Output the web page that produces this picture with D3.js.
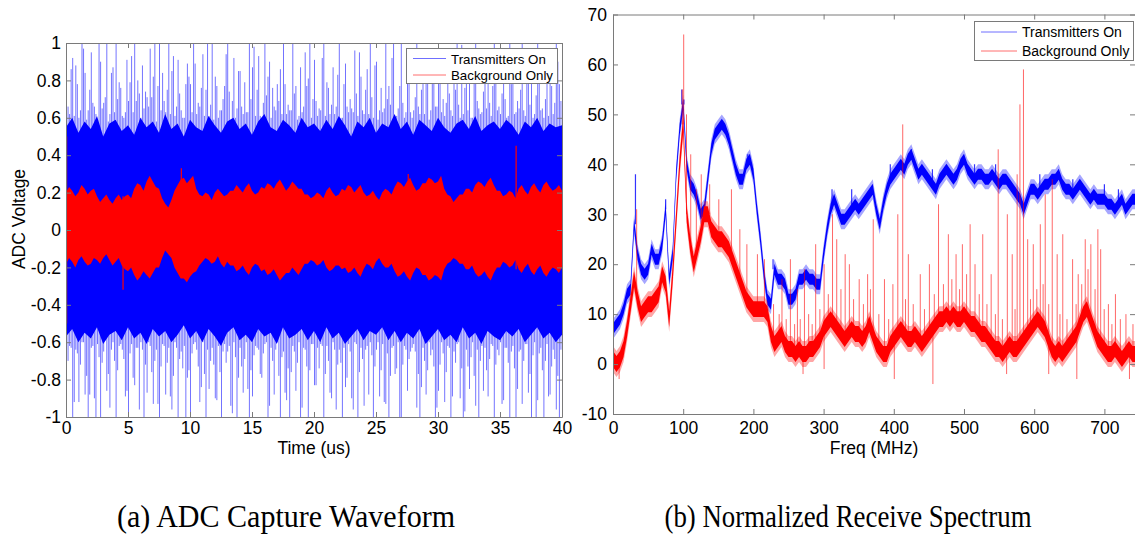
<!DOCTYPE html>
<html>
<head>
<meta charset="utf-8">
<script src="https://cdn.jsdelivr.net/npm/d3@7"></script>
<style>
  body { margin: 0; background: #fff; }
  svg { display: block; }
  .tick text, .lbl { font-family: "Liberation Sans", Arial, sans-serif; fill: #000; }
  .cap { font-family: "Liberation Serif", "Times New Roman", serif; fill: #000; }
</style>
</head>
<body>
<svg id="fig" width="1135" height="536"></svg>
<script>
// ---------- (a) ADC capture waveform ----------
const T_END = 40;                       // capture length, us
const timeTicks = [0, 5, 10, 15, 20, 25, 30, 35, 40];
const voltTicks = [-1, -0.8, -0.6, -0.4, -0.2, 0, 0.2, 0.4, 0.6, 0.8, 1];

// Transmitters on: dense body of the waveform (0.5 us bins)
const txCoreHi = [
  .55,.60,.52,.58,.54,.61,.50,.57,.59,.53,
  .56,.51,.60,.55,.58,.52,.62,.54,.57,.50,
  .59,.55,.53,.61,.56,.52,.58,.60,.54,.57,
  .51,.58,.62,.55,.53,.59,.56,.52,.60,.55,
  .57,.53,.59,.54,.61,.56,.50,.58,.55,.60,
  .52,.57,.55,.62,.54,.58,.51,.59,.56,.53,
  .60,.55,.52,.57,.59,.54,.61,.53,.56,.58,
  .54,.59,.56,.51,.58,.55,.60,.53,.57,.55,
  .56];
const txCoreLo = [
  -.57,-.53,-.60,-.55,-.58,-.52,-.61,-.56,-.54,-.59,
  -.52,-.58,-.55,-.61,-.53,-.57,-.54,-.60,-.56,-.51,
  -.58,-.54,-.60,-.53,-.57,-.62,-.55,-.52,-.59,-.56,
  -.60,-.53,-.57,-.55,-.61,-.52,-.58,-.56,-.53,-.59,
  -.54,-.60,-.52,-.58,-.55,-.61,-.57,-.53,-.59,-.54,
  -.56,-.52,-.59,-.54,-.60,-.55,-.58,-.53,-.61,-.57,
  -.53,-.59,-.56,-.60,-.52,-.58,-.55,-.61,-.54,-.57,
  -.59,-.54,-.57,-.53,-.60,-.56,-.52,-.58,-.55,-.60,
  -.56];
// Transmitters on: excursions sampled on the 0.25 us grid
const txPeakHi = [
  .78,.62,.92,.88,.60,1.0,.84,.64,  .95,.66,.59,.90,.68,1.0,.62,.87,
  1.0,.79,.61,.63,.69,.93,1.0,.80,  .60,.65,.71,.97,.82,.58,1.0,.84,
  .63,1.0,.85,.61,.91,.64,.60,.89,  .78,1.0,.62,.66,.94,.75,.61,1.0,
  .82,.60,.64,.77,1.0,.59,.92,.65,  .85,.62,.63,1.0,.87,.61,.93,.60,
  1.0,.82,.60,.66,.78,.86,1.0,.62,  .64,1.0,.77,.61,.63,.95,.81,.60,
  .91,.61,.64,1.0,.79,.62,.87,.66,  1.0,.60,.89,.63,.65,.96,.61,.82,
  .62,.86,1.0,.60,.90,.64,.63,1.0,  .77,.92,.61,.65,1.0,.60,.88,.63,
  .64,1.0,.62,.81,.93,.59,.86,.66,  1.0,.63,.61,.90,.64,.87,1.0,.60,
  .62,.94,.82,.60,1.0,.65,.63,.89,  .81,.61,1.0,.64,.62,.92,.60,1.0,
  .88,.63,.65,1.0,.61,.90,.82,.62,  1.0,.64,.60,.94,.80,.62,1.0,.78,
  .66];
const txPeakLo = [
  -.85,-.62,-1.0,-.64,-.92,-.60,-.88,-1.0,  -.63,-.90,-.61,-1.0,-.65,-.86,-.95,-.60,
  -1.0,-.62,-.64,-.89,-1.0,-.61,-.83,-.63,  -.60,-1.0,-.87,-.62,-.93,-.64,-1.0,-.61,
  -.88,-.63,-.96,-.60,-1.0,-.65,-.62,-.79,  -1.0,-.61,-.64,-.92,-.60,-1.0,-.85,-.63,
  -.90,-.62,-1.0,-.61,-.65,-.94,-.60,-1.0,  -.63,-.87,-.60,-1.0,-.89,-.62,-.64,-.79,
  -.61,-1.0,-.63,-.88,-.60,-1.0,-.65,-.91,  -1.0,-.62,-.86,-.60,-.95,-.64,-1.0,-.61,
  -.83,-.63,-.61,-1.0,-.62,-.87,-.60,-.96,  -.64,-1.0,-.84,-.61,-.90,-.60,-1.0,-.63,
  -.94,-.62,-.60,-1.0,-.64,-.89,-.61,-.93,  -1.0,-.63,-.77,-.60,-1.0,-.62,-.86,-.65,
  -.61,-.95,-1.0,-.63,-.88,-.60,-.64,-1.0,  -.86,-.60,-.92,-.62,-1.0,-.65,-.61,-.90,
  -1.0,-.64,-.85,-.60,-.94,-1.0,-.62,-.63,  -.89,-.61,-1.0,-.64,-.60,-.91,-.63,-1.0,
  -.62,-1.0,-.65,-.93,-.61,-.87,-1.0,-.60,  -.91,-.63,-1.0,-.61,-.88,-.64,-.96,-1.0,
  -.86];
// Transmitters on: excursions sampled halfway between the 0.25 us grid points
const txMidHi = [
  .66,.86,.61,.78,.64,.97,.59,.75,  .68,.62,1.0,.65,.71,.58,.84,.63,
  .70,.76,.60,.91,.79,.63,.69,.73,  .88,.74,.66,.71,1.0,.77,.64,.69,
  .75,.62,.93,.66,.73,.60,.78,.82,  .63,.89,.68,.76,.61,1.0,.67,.59,
  .77,.64,.70,.94,.74,.69,.60,.85,  .66,.79,.63,.70,.98,.75,.61,.68,
  .72,.90,.76,.64,.69,.62,.78,.67,  .64,.73,.59,.87,.66,.77,1.0,.70,
  .69,.65,.92,.61,.76,.67,.62,.83,  .60,.78,.66,.70,.63,.73,.95,.64,
  .75,.62,.71,.88,.59,.76,.65,.70,  .67,1.0,.61,.77,.68,.63,.84,.60,
  .71,.66,.75,.62,.91,.64,.79,.66,  .86,.70,.68,.73,.61,.75,.67,.99,
  .76,.64,.60,.85,.69,.62,.74,.65,  .68,.77,.93,.66,.73,.70,.61,.78,
  .62,.69,.75,.64,.97,.67,.60,.72,  .87,.65,.70,.61,.77,.68,.90,.69];
const txMidLo = [
  -.70,-.63,-.92,-.66,-.72,-.60,-.78,-.88,  -.62,-1.0,-.68,-.71,-.59,-.77,-.64,-.70,
  -.75,-.61,-.69,-.86,-.66,-.79,-.63,-.96,  -.64,-.72,-.60,-.76,-.70,-.93,-.73,-.62,
  -.71,-.89,-.78,-.63,-.69,-.74,-1.0,-.75,  -.66,-.60,-.73,-.84,-.77,-.64,-.70,-.72,
  -.91,-.76,-.65,-.71,-.62,-.98,-.68,-.79,  -.73,-.69,-.85,-.75,-.67,-.63,-.77,-.66,
  -.60,-.94,-.70,-.64,-.78,-.68,-.87,-.74,  -.76,-.65,-.71,-1.0,-.63,-.73,-.75,-.61,
  -.83,-.74,-.62,-.77,-.70,-.90,-.64,-.72,  -.71,-.63,-.79,-.65,-.96,-.61,-.76,-.69,
  -.64,-.88,-.67,-.73,-.60,-.75,-.92,-.66,  -.78,-.62,-.74,-1.0,-.72,-.64,-.69,-.63,
  -.65,-.77,-.84,-.70,-.75,-.67,-.73,-.95,  -.72,-.66,-.76,-.63,-.89,-.71,-.60,-.74,
  -.97,-.73,-.68,-.78,-.64,-.70,-.86,-.75,  -.69,-.62,-.72,-.67,-.93,-.63,-.71,-.65,
  -.74,-.85,-.64,-.70,-.61,-.77,-.67,-1.0,  -.66,-.75,-.70,-.89,-.73,-.69,-.78,-.64];
// Background only: envelope (0.25 us bins)
const bgHi = [
  .20,.23,.21,.18,.20,.24,.22,.19,.21,.22,.18,.15,.17,.19,.16,.14,.17,.19,.16,.18,
  .19,.17,.22,.25,.24,.21,.26,.29,.26,.23,.22,.17,.14,.12,.16,.21,.24,.27,.28,.25,
  .27,.29,.22,.19,.18,.20,.19,.16,.20,.22,.20,.18,.19,.21,.21,.24,.22,.20,.23,.25,
  .21,.19,.20,.23,.22,.25,.24,.22,.25,.27,.24,.21,.23,.26,.24,.22,.22,.19,.19,.17,
  .18,.20,.19,.17,.21,.23,.20,.18,.19,.22,.21,.24,.23,.20,.22,.24,.20,.18,.19,.21,
  .18,.16,.20,.22,.21,.19,.23,.26,.25,.23,.26,.28,.24,.21,.22,.25,.25,.28,.27,.25,
  .26,.29,.22,.19,.18,.15,.17,.19,.19,.22,.22,.20,.24,.26,.25,.23,.26,.28,.24,.21,
  .21,.18,.19,.21,.20,.17,.22,.24,.21,.19,.23,.25,.22,.20,.24,.26,.23,.21,.22,.24,
  .21];
const bgLo = [
  -.18,-.15,-.17,-.20,-.16,-.14,-.17,-.19,-.18,-.15,-.16,-.18,-.15,-.13,-.16,-.19,-.17,-.15,-.19,-.21,
  -.22,-.20,-.24,-.27,-.25,-.22,-.24,-.26,-.23,-.20,-.20,-.15,-.11,-.13,-.15,-.20,-.23,-.26,-.26,-.28,
  -.25,-.23,-.22,-.19,-.17,-.15,-.16,-.18,-.17,-.14,-.18,-.20,-.17,-.19,-.19,-.22,-.21,-.19,-.22,-.24,
  -.20,-.18,-.19,-.22,-.21,-.24,-.23,-.21,-.24,-.27,-.25,-.23,-.23,-.20,-.22,-.24,-.21,-.18,-.18,-.16,
  -.17,-.19,-.18,-.16,-.20,-.22,-.21,-.19,-.19,-.21,-.20,-.23,-.22,-.20,-.23,-.25,-.21,-.18,-.19,-.21,
  -.17,-.15,-.18,-.20,-.20,-.18,-.22,-.25,-.24,-.22,-.25,-.27,-.23,-.20,-.21,-.24,-.24,-.27,-.26,-.24,
  -.25,-.27,-.21,-.18,-.17,-.15,-.16,-.18,-.18,-.21,-.21,-.19,-.23,-.25,-.24,-.22,-.25,-.27,-.23,-.20,
  -.20,-.17,-.18,-.20,-.19,-.16,-.21,-.23,-.20,-.18,-.22,-.24,-.21,-.19,-.23,-.25,-.22,-.20,-.21,-.23,
  -.20];
// Background only: isolated excursions [time us, high, low]
const bgSpikes = [[0.05, .50, -.50], [9.3, .33, -.20], [36.3, .45, -.21], [27.6, .30, -.24], [4.6, .18, -.32]];

// ---------- (b) normalized receive spectrum ----------
const F_MAX = 743.6;                    // MHz
const FREQ_STEP = 5;                    // MHz between trace samples
const freqTicks = [0, 100, 200, 300, 400, 500, 600, 700];
const dbTicks = [-10, 0, 10, 20, 30, 40, 50, 60, 70];

const txSpectrum = [
   7,  8,  9, 11, 14, 15, 28, 22, 19, 18,
  19, 23, 21, 21, 24, 31, 17, 22, 38, 47,
  52, 40, 36, 35, 33, 30, 31, 37, 43, 46,
  47, 48, 47, 45, 42, 39, 37, 37, 40, 41,
  38, 31, 25, 18, 13, 12, 19, 17, 17, 16,
  13, 13, 14, 17, 17, 18, 17, 17, 16, 16,
  22, 27, 31, 33, 31, 29, 29, 30, 31, 32,
  31, 32, 33, 34, 35, 31, 28, 32, 35, 37,
  38, 39, 40, 39, 41, 42, 40, 38, 39, 38,
  37, 36, 35, 37, 38, 39, 38, 37, 38, 40,
  41, 39, 38, 37, 38, 38, 37, 37, 38, 37,
  36, 37, 37, 36, 35, 34, 33, 31, 33, 35,
  35, 34, 35, 36, 36, 37, 37, 38, 36, 35,
  35, 34, 35, 36, 35, 34, 33, 34, 33, 33,
  33, 32, 32, 31, 32, 33, 31, 32, 33, 33];
const bgSpectrum = [
   1,  0,  1,  3,  7, 12, 17, 13, 10, 11,
  12, 12, 13, 14, 18, 16,  9, 18, 29, 40,
  48, 30, 24, 20, 23, 26, 30, 30, 27, 26,
  25, 25, 24, 23, 21, 19, 17, 15, 13, 12,
  11, 11, 11, 11, 10,  6,  4,  5,  6,  4,
   3,  3,  2,  3,  2,  2,  3,  3,  4,  5,
   7,  8,  9,  8,  7,  6,  5,  6,  7,  6,
   6,  5,  6,  8,  6,  4,  3,  2,  2,  4,
   5,  6,  7,  6,  5,  5,  6,  5,  4,  5,
   6,  7,  8,  9,  9, 10,  9, 10,  9,  9,
  10,  9,  8,  8,  7,  6,  6,  5,  4,  3,
   3,  2,  3,  4,  3,  3,  4,  5,  6,  7,
   8,  9,  8,  7,  5,  3,  2,  3,  2,  3,
   4,  5,  6,  8, 10, 11,  9,  7,  5,  4,
   3,  2,  2,  3,  2,  1,  2,  3,  2,  2];
// narrow tones [MHz, peak dB]
const txTones = [
  [32, 38], [75, 33], [98, 55], [101, 53], [192, 42], [228, 21], [312, 35], [425, 43],
  [340, 35], [395, 40], [455, 39], [515, 40], [545, 40], [608, 38], [655, 37], [700, 36], [720, 35]];
const bgTones = [
  [33, 31], [98, 55], [100, 66], [104, 50], [110, 42], [118, 35], [125, 38], [137, 36],
  [150, 33], [168, 35], [180, 27], [190, 24], [205, 22], [215, 21], [240, 17], [252, 21],
  [262, 15], [272, 19], [288, 24], [300, 20], [312, 30], [318, 25], [330, 22], [336, 20],
  [350, 17], [362, 18], [370, 29], [386, 17], [398, 16], [405, 30], [412, 48], [420, 22],
  [437, 18], [450, 20], [463, 32], [477, 26], [488, 22], [497, 24], [508, 28], [515, 20],
  [526, 26], [538, 18], [548, 43], [561, 30], [568, 22], [575, 38], [579, 52], [584, 59],
  [590, 25], [598, 24], [608, 28], [615, 34], [625, 37], [632, 22], [640, 26], [654, 21],
  [662, 18], [672, 25], [680, 24], [690, 27], [694, 23], [705, 12], [715, 14], [730, 10],
  [228, 12], [236, 10], [246, 9], [258, 8], [266, 9], [278, 10], [283, 8], [294, 11],
  [306, 14], [324, 15], [342, 13], [356, 12], [366, 15], [378, 10], [392, 9], [416, 13],
  [427, 12], [443, 11], [457, 14], [470, 16], [482, 17], [493, 15], [503, 18], [521, 14],
  [532, 12], [544, 10], [554, 9], [572, 11], [594, 13], [603, 15], [612, 16], [620, 12],
  [636, 10], [646, 9], [659, 12], [667, 16], [676, 19], [686, 15], [699, 11], [710, 8],
  [722, 9], [740, 8]];
// downward dips of the background trace [MHz, dB]
const bgDips = [[8, -3], [270, -2], [300, -1], [400, -3], [455, -4], [560, -2], [620, -2], [660, -3], [735, -3]];

const legendLabels = ["Transmitters On", "Background Only"];
const captions = ["(a) ADC Capture Waveform", "(b) Normalized Receive Spectrum"];

const BLUE = "#0000ff", RED = "#ff0000", AXIS = "#7a7a7a";
const svg = d3.select("#fig");
const defs = svg.append("defs");

// ---------- shared helpers ----------
function clip(id, x, y) {
  const [x0, x1] = x.range(), [yb, yt] = y.range();
  defs.append("clipPath").attr("id", id).append("rect")
    .attr("x", x0).attr("y", yt).attr("width", x1 - x0).attr("height", yb - yt);
}

function boxAxes(x, y, fmt, xt, yt, opts) {
  const [x0, x1] = x.range(), [yb, yt0] = y.range();
  const g = svg.append("g");
  const style = sel => {
    sel.selectAll("path.domain").attr("stroke", AXIS).attr("stroke-width", 1);
    sel.selectAll(".tick line").attr("stroke", AXIS);
    sel.selectAll(".tick text").style("font-size", "17.5px");
  };
  g.append("g").attr("transform", `translate(0,${yb})`)
    .call(d3.axisBottom(x).tickValues(xt).tickSizeInner(-5).tickSizeOuter(0).tickFormat(fmt))
    .call(style)
    .call(s => s.selectAll(".tick text").attr("y", 0).attr("dy", 0)
      .attr("transform", `translate(0,${opts.xLabelBase - yb})`));
  g.append("g").attr("transform", `translate(0,${yt0})`)
    .call(d3.axisTop(x).tickValues(xt).tickSizeInner(-5).tickSizeOuter(0).tickFormat(""))
    .call(style);
  g.append("g").attr("transform", `translate(${x0},0)`)
    .call(d3.axisLeft(y).tickValues(yt).tickSizeInner(-5).tickSizeOuter(0).tickPadding(opts.yPad).tickFormat(fmt))
    .call(style)
    .call(s => s.selectAll(".tick text").attr("dy", "0.33em"));
  g.append("g").attr("transform", `translate(${x1},0)`)
    .call(d3.axisRight(y).tickValues(yt).tickSizeInner(-5).tickSizeOuter(0).tickFormat(""))
    .call(style);
  g.selectAll(".tick text").attr("fill", "#000").style("font-family", '"Liberation Sans", Arial, sans-serif');
  return g;
}

function legend(x, y, w, h, lineX0, lineX1, textX, rows, fontSize) {
  const g = svg.append("g");
  g.append("rect").attr("x", x + 0.5).attr("y", y + 0.5).attr("width", w).attr("height", h)
    .attr("fill", "#fff").attr("stroke", AXIS).attr("stroke-width", 1);
  const colors = ["#6f6fff", "#ff6f6f"];
  legendLabels.forEach((t, i) => {
    g.append("line").attr("x1", lineX0).attr("x2", lineX1).attr("y1", rows[i][0]).attr("y2", rows[i][0])
      .attr("stroke", colors[i]).attr("stroke-width", 1);
    g.append("text").attr("class", "lbl").attr("x", textX).attr("y", rows[i][1])
      .style("font-size", fontSize + "px").text(t);
  });
}

const fmtNum = d => String(d);

// ---------- panel (a) ----------
const xT = d3.scaleLinear().domain([0, T_END]).range([66, 562]);
const yV = d3.scaleLinear().domain([-1, 1]).range([417, 43]);
const tAt = (arr, i) => i * T_END / (arr.length - 1);
const binW = T_END / (txPeakHi.length - 1);
clip("clipA", xT, yV);
const gA = svg.append("g").attr("clip-path", "url(#clipA)");

gA.append("path")
  .datum(d3.range(txCoreHi.length))
  .attr("d", d3.area()
    .x(i => xT(tAt(txCoreHi, i)))
    .y0(i => yV(txCoreLo[i]))
    .y1(i => yV(txCoreHi[i])))
  .attr("fill", BLUE);

// every excursion is one thin vertical stroke, min to max
const strokes = [
  ...txPeakHi.map((v, i) => [i * binW, v, txPeakLo[i]]),
  ...txMidHi.map((v, i) => [(i + 0.5) * binW, v, txMidLo[i]])
];
gA.selectAll("line.tx").data(strokes).join("line")
  .attr("class", "tx")
  .attr("x1", d => xT(d[0]) + 0.5).attr("x2", d => xT(d[0]) + 0.5)
  .attr("y1", d => yV(d[1])).attr("y2", d => yV(d[2]))
  .attr("stroke", BLUE).attr("stroke-width", 1).attr("stroke-opacity", 0.55);

gA.append("path")
  .datum(d3.range(bgHi.length))
  .attr("d", d3.area()
    .x(i => xT(tAt(bgHi, i)))
    .y0(i => yV(bgLo[i]))
    .y1(i => yV(bgHi[i])))
  .attr("fill", RED);

gA.selectAll("line.bgsp").data(bgSpikes).join("line")
  .attr("class", "bgsp")
  .attr("x1", d => xT(d[0])).attr("x2", d => xT(d[0]))
  .attr("y1", d => yV(d[1])).attr("y2", d => yV(d[2]))
  .attr("stroke", RED).attr("stroke-width", 1.2);

boxAxes(xT, yV, fmtNum, timeTicks, voltTicks, { xLabelBase: 434, yPad: 5 });

svg.append("text").attr("class", "lbl").attr("x", xT(T_END / 2)).attr("y", 454)
  .attr("text-anchor", "middle").style("font-size", "17.5px").text("Time (us)");
svg.append("text").attr("class", "lbl")
  .attr("transform", "translate(25,219) rotate(-90)")
  .attr("text-anchor", "middle").style("font-size", "17.5px").text("ADC Voltage");

legend(406, 48, 151, 35, 413, 446, 451, [[58.5, 63.5], [75, 80]], 13.3);

// ---------- panel (b) ----------
const xF = d3.scaleLinear().domain([0, F_MAX]).range([613, 1135]);
const yD = d3.scaleLinear().domain([-10, 70]).range([414, 14.5]);
clip("clipB", xF, yD);
const gB = svg.append("g").attr("clip-path", "url(#clipB)");

function band(series, half) {
  return d3.area()
    .x((d, i) => xF(i * FREQ_STEP))
    .y0(d => yD(d - half))
    .y1(d => yD(d + half))(series);
}

// transmitters on
gB.append("path").attr("d", band(txSpectrum, 2.0)).attr("fill", BLUE).attr("fill-opacity", 0.35);
gB.append("path").attr("d", band(txSpectrum, 1.1)).attr("fill", BLUE);
gB.selectAll("line.txt").data(txTones).join("line")
  .attr("class", "txt")
  .attr("x1", d => xF(d[0])).attr("x2", d => xF(d[0]))
  .attr("y1", d => yD(d[1])).attr("y2", d => yD(txSpectrum[Math.round(d[0] / FREQ_STEP)]))
  .attr("stroke", BLUE).attr("stroke-width", 1.2).attr("stroke-opacity", 0.8);

// background only
gB.append("path").attr("d", band(bgSpectrum, 2.6)).attr("fill", RED).attr("fill-opacity", 0.35);
gB.append("path").attr("d", band(bgSpectrum, 1.6)).attr("fill", RED);
gB.selectAll("line.bgt").data(bgTones).join("line")
  .attr("class", "bgt")
  .attr("x1", d => xF(d[0]) + 0.5).attr("x2", d => xF(d[0]) + 0.5)
  .attr("y1", d => yD(d[1])).attr("y2", d => yD(bgSpectrum[Math.round(d[0] / FREQ_STEP)]))
  .attr("stroke", RED).attr("stroke-width", 1).attr("stroke-opacity", 0.6);
gB.selectAll("line.bgd").data(bgDips).join("line")
  .attr("class", "bgd")
  .attr("x1", d => xF(d[0]) + 0.5).attr("x2", d => xF(d[0]) + 0.5)
  .attr("y1", d => yD(d[1])).attr("y2", d => yD(bgSpectrum[Math.round(d[0] / FREQ_STEP)]))
  .attr("stroke", RED).attr("stroke-width", 1).attr("stroke-opacity", 0.6);

boxAxes(xF, yD, fmtNum, freqTicks, dbTicks, { xLabelBase: 434, yPad: 6 });

svg.append("text").attr("class", "lbl").attr("x", (613 + 1135) / 2).attr("y", 454)
  .attr("text-anchor", "middle").style("font-size", "17.5px").text("Freq (MHz)");

legend(974, 21, 159, 39, 981, 1017, 1022, [[32, 37], [51, 56]], 14);

// ---------- captions ----------
svg.append("text").attr("class", "cap").attr("x", 286).attr("y", 527).attr("text-anchor", "middle")
  .style("font-size", "32px").attr("textLength", 338).attr("lengthAdjust", "spacingAndGlyphs").text(captions[0]);
svg.append("text").attr("class", "cap").attr("x", 848).attr("y", 527).attr("text-anchor", "middle")
  .style("font-size", "32px").attr("textLength", 367).attr("lengthAdjust", "spacingAndGlyphs").text(captions[1]);
</script>
</body>
</html>
